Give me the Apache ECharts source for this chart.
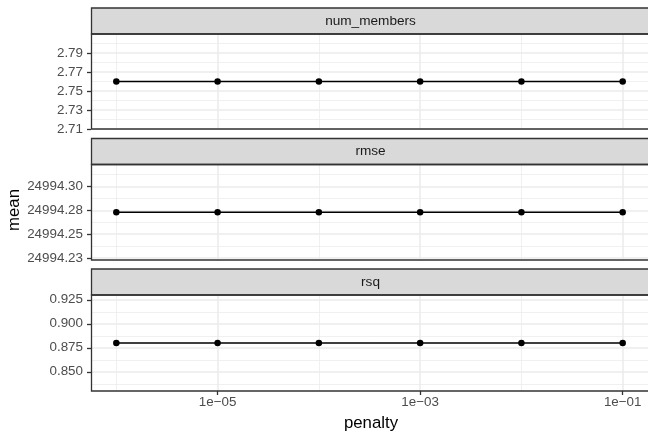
<!DOCTYPE html>
<html>
<head>
<meta charset="utf-8">
<script src="https://cdn.jsdelivr.net/npm/echarts@6/dist/echarts.min.js"></script>
<style>html,body{margin:0;padding:0;background:#fff}#c{width:648px;height:432px}</style>
</head>
<body>
<div id="c"></div>
<script>
// ---- data ----
const penalty = [1e-6, 1e-5, 1e-4, 1e-3, 1e-2, 1e-1];
const facetNames = ['num_members', 'rmse', 'rsq'];
const numMembers = [2.76, 2.76, 2.76, 2.76, 2.76, 2.76];
const rmse = [24994.273, 24994.273, 24994.273, 24994.273, 24994.273, 24994.273];
const rsq = [0.88, 0.88, 0.88, 0.88, 0.88, 0.88];

const xTickValues = [1e-5, 1e-3, 1e-1];
const xTickLabels = ['1e\u221205', '1e\u221203', '1e\u221201'];
const xMinorValues = [1e-6, 1e-4, 1e-2];

const numMembersTicks = [2.71, 2.73, 2.75, 2.77, 2.79];
const numMembersLabels = ['2.71', '2.73', '2.75', '2.77', '2.79'];
const numMembersMinor = [2.72, 2.74, 2.76, 2.78, 2.80];

const rmseTicks = [24994.225, 24994.25, 24994.275, 24994.3];
const rmseLabels = ['24994.23', '24994.25', '24994.28', '24994.30'];
const rmseMinor = [24994.2375, 24994.2625, 24994.2875, 24994.3125];

const rsqTicks = [0.85, 0.875, 0.9, 0.925];
const rsqLabels = ['0.850', '0.875', '0.900', '0.925'];
const rsqMinor = [0.8375, 0.8625, 0.8875, 0.9125];

// ---- layout ----
const L = 91, W = 559;
const panels = [
  {stripTop: 8, top: 34, h: 95, yMin: 2.71, yMax: 2.81, vals: numMembers, ticks: numMembersTicks, labels: numMembersLabels, minor: numMembersMinor},
  {stripTop: 138.5, top: 164.5, h: 95.5, yMin: 24994.223, yMax: 24994.323, vals: rmse, ticks: rmseTicks, labels: rmseLabels, minor: rmseMinor},
  {stripTop: 269, top: 295, h: 96, yMin: 0.83, yMax: 0.93, vals: rsq, ticks: rsqTicks, labels: rsqLabels, minor: rsqMinor}
];
const lg = v => Math.log10(v);
const xMin = -6.25, xMax = -0.75;
const FONT = '"Liberation Sans", Arial, Helvetica, sans-serif';
const TICK_FS = 13.4, STRIP_FS = 13.6, TITLE_FS = 16.8;

function labelFor(ticks, labels) {
  return function (v) {
    let best = -1, bd = Infinity;
    ticks.forEach((t, i) => { const d = Math.abs(t - v); if (d < bd) { bd = d; best = i; } });
    const span = Math.abs(ticks[ticks.length - 1] - ticks[0]) || 1;
    return bd < span * 1e-3 ? labels[best] : '';
  };
}

const grids = [], xAxes = [], yAxes = [], series = [], graphics = [];
panels.forEach((p, i) => {
  grids.push({left: L, top: p.top, width: W, height: p.h, show: false, containLabel: false});
  const isBottom = i === panels.length - 1;
  xAxes.push({
    type: 'value', gridIndex: i, min: xMin, max: xMax,
    axisLine: {show: false},
    axisTick: {show: isBottom, length: 4, lineStyle: {color: '#333333', width: 1.3}, customValues: xTickValues.map(lg)},
    axisLabel: {show: isBottom, margin: 5, color: '#4D4D4D', fontSize: TICK_FS, fontFamily: FONT,
      customValues: xTickValues.map(lg), formatter: labelFor(xTickValues.map(lg), xTickLabels)},
    splitLine: {show: true, lineStyle: {color: '#EBEBEB', width: 1.5}}
  });
  yAxes.push({
    type: 'value', gridIndex: i, min: p.yMin, max: p.yMax,
    axisLine: {show: false},
    axisTick: {show: true, length: 4, lineStyle: {color: '#333333', width: 1.3}, customValues: p.ticks},
    axisLabel: {show: true, margin: 8, color: '#4D4D4D', fontSize: TICK_FS, fontFamily: FONT,
      customValues: p.ticks, formatter: labelFor(p.ticks, p.labels)},
    splitLine: {show: true, lineStyle: {color: '#EBEBEB', width: 1.5}}
  });
  series.push({
    type: 'line', xAxisIndex: i, yAxisIndex: i,
    data: penalty.map((x, j) => [lg(x), p.vals[j]]),
    symbol: 'circle', symbolSize: 6.5, showSymbol: true,
    lineStyle: {color: '#000', width: 1.6}, itemStyle: {color: '#000'},
    z: 5, silent: true
  });
  // strip background + text
  graphics.push({type: 'rect', shape: {x: L + 0.5, y: p.stripTop, width: W, height: p.top - p.stripTop},
    style: {fill: '#D9D9D9', stroke: '#333333', lineWidth: 1.3}, z: 50});
  graphics.push({type: 'text', x: L + W / 2, y: (p.stripTop + p.top) / 2,
    style: {text: facetNames[i], fill: '#1A1A1A', font: STRIP_FS + 'px ' + FONT, textAlign: 'center', textVerticalAlign: 'middle'}, z: 51});
  // panel border
  graphics.push({type: 'rect', shape: {x: L + 0.5, y: p.top, width: W, height: p.h},
    style: {fill: null, stroke: '#333333', lineWidth: 1.3}, z: 50});
});
// minor gridline axes
panels.forEach((p, i) => {
  xAxes.push({
    type: 'value', gridIndex: i, min: xMin, max: xMax, position: 'bottom',
    axisLine: {show: false}, axisLabel: {show: false},
    axisTick: {show: false, customValues: xMinorValues.map(lg)},
    splitLine: {show: true, lineStyle: {color: '#EBEBEB', width: 0.75}}
  });
  yAxes.push({
    type: 'value', gridIndex: i, min: p.yMin, max: p.yMax, position: 'left',
    axisLine: {show: false}, axisLabel: {show: false},
    axisTick: {show: false, customValues: p.minor},
    splitLine: {show: true, lineStyle: {color: '#EBEBEB', width: 0.75}}
  });
});
graphics.push({type: 'text', x: 371, y: 423, style: {text: 'penalty', fill: '#000', font: TITLE_FS + 'px ' + FONT, textAlign: 'center', textVerticalAlign: 'middle'}});
graphics.push({type: 'text', x: 14, y: 210, rotation: Math.PI / 2, style: {text: 'mean', fill: '#000', font: TITLE_FS + 'px ' + FONT, textAlign: 'center', textVerticalAlign: 'middle'}});

const chart = echarts.init(document.getElementById('c'), null, {renderer: 'canvas'});
chart.setOption({
  animation: false,
  backgroundColor: '#ffffff',
  grid: grids, xAxis: xAxes, yAxis: yAxes, series: series, graphic: graphics
});
</script>
</body>
</html>
